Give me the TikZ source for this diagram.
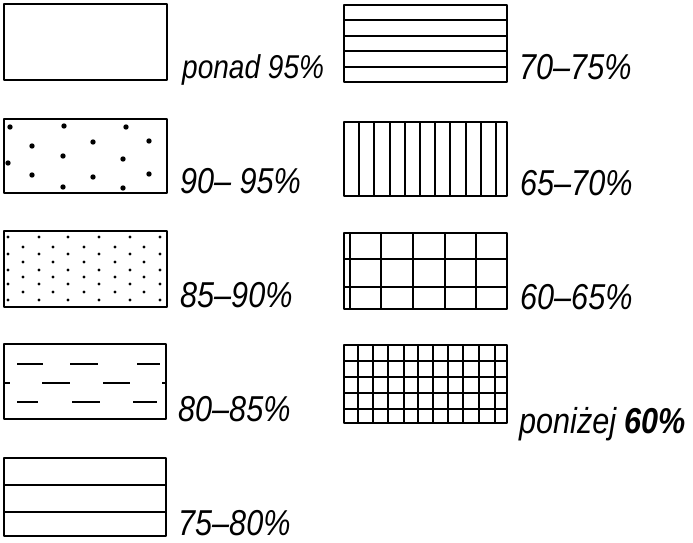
\documentclass[tikz,border=0pt]{standalone}
\usepackage{fontspec}
\setmainfont{Liberation Sans}[FakeStretch=0.85]
\tikzset{
  frame/.style={line width=2.8pt, line join=round},
  inner/.style={line width=2pt},
  lab/.style={anchor=base west, inner sep=0pt, font=\fontsize{36}{40}\selectfont\itshape},
  bigdot/.style={fill=black, draw=none},
}
\begin{document}
\begin{tikzpicture}[x=1pt,y=-1pt]
\useasboundingbox (0,0) rectangle (693,543);
% ---- left column ----
% B1 ponad 95%
\draw[frame] (4,4) rectangle (167,80);
\node[lab, font=\fontsize{33}{38}\selectfont\itshape] (l1) at (182,78) {ponad 95\%};
% B2 90-95%
\draw[frame] (4,119) rectangle (167,193);
\foreach \x/\y in {10/127,64/126,126/127,32/146,93/142,149/141,63/156,123/159,8/163,32/175,93/177,149/174,63/187,123/188}
  \fill[bigdot] (\x,\y) circle (2.7);
\node[lab] (l2) at (180,193) {90– 95\%};
% B3 85-90%
\draw[frame] (4,231) rectangle (167,307);
\foreach \y in {237,254,270,284,300}
  \foreach \x in {8,39,68,99,130,160}
    \fill[bigdot] (\x,\y) circle (1.6);
\foreach \y in {247,262,277,292}
  \foreach \x in {23,53,84,115,144}
    \fill[bigdot] (\x,\y) circle (1.6);
\node[lab] (l3) at (180,307) {85–90\%};
% B4 80-85%
\draw[frame] (4,344) rectangle (166,419);
\draw[inner] (17,364) -- (43,364) (70,364) -- (98,364) (137,364) -- (160,364)
             (4,383) -- (10,383) (42,383) -- (70,383) (103,383) -- (130,383) (162,383) -- (166,383)
             (17,402) -- (38,402) (72,402) -- (100,402) (133,402) -- (157,402);
\node[lab] (l4) at (178,421) {80–85\%};
% B5 75-80%
\draw[frame] (4,458) rectangle (166,536);
\draw[inner] (4,485) -- (166,485) (4,512) -- (166,512);
\node[lab] (l5) at (178,535) {75–80\%};
% ---- right column ----
% R1 70-75%
\draw[frame] (344,5) rectangle (507,82);
\foreach \y in {20.4,35.8,51.2,66.6}
  \draw[inner] (344,\y) -- (507,\y);
\node[lab] (r1) at (519,79) {70–75\%};
% R2 65-70%
\draw[frame] (344,122) rectangle (507,196);
\foreach \i in {1,...,10}
  \draw[inner] ({344+15.2*\i},122) -- ({344+15.2*\i},196);
\node[lab] (r2) at (520,195) {65–70\%};
% R3 60-65%
\draw[frame] (344,233) rectangle (507,309);
\foreach \y in {259,287}
  \draw[inner] (344,\y) -- (507,\y);
\foreach \x in {350,381,413,445,476}
  \draw[inner] (\x,233) -- (\x,309);
\node[lab] (r3) at (520,309) {60–65\%};
% R4 ponizej 60%
\draw[frame] (344,345) rectangle (507,423);
\foreach \y in {361,377,393,409}
  \draw[inner] (344,\y) -- (507,\y);
\foreach \x in {358,373,388,404,418,433,448,463,479,495}
  \draw[inner] (\x,345) -- (\x,423);
\node[lab] (r4) at (519,433) {poniżej \textbf{60\%}};
\end{tikzpicture}
\end{document}
